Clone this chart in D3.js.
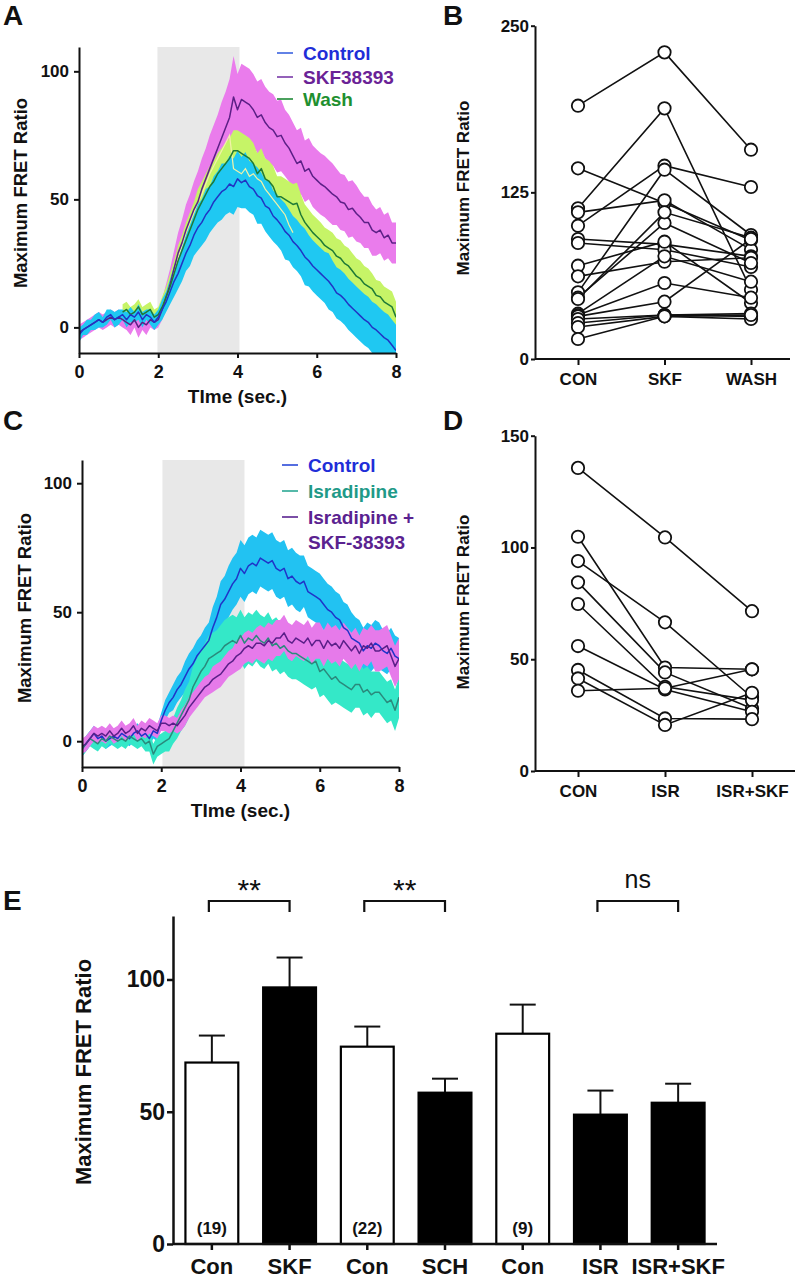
<!DOCTYPE html>
<html>
<head>
<meta charset="utf-8">
<script src="https://cdn.jsdelivr.net/npm/d3@7"></script>
<style>
  body { margin: 0; background: #fff; }
  svg { display: block; font-family: "Liberation Sans", Arial, Helvetica, sans-serif; }
</style>
</head>
<body>
<svg id="fig" width="799" height="1280"></svg>
<script>
// ---- data ----
const timeStep = 0.1;            // traces sampled every 0.1 s, 0..8 s
const timeTicks = [0, 2, 4, 6, 8];
const traceTicks = [0, 50, 100];

// panel A – mean and s.e.m. of the traces
const ctrlA = [-3,-1,0,1,2,3,2,4,5,3, 4,5,3,5,4,6,3,5,4,2, 4,7,10,14,18,21,25,29,32,36,
  39,41,44,46,49,51,53,54,56,55, 58,56.5,57.5,55,54,51.5,50.5,47.5,46.5,43.5,
  42,40,37.5,36,33.5,32,30,27.5,26,24, 22.5,21,19.5,18,16,13.5,12.5,11,9,7.5,
  6,4.5,3,2,0,-1,-2.5,-4,-5,-7,-9];
const ctrlA_sem = [3,2,3,2,3,3,2,3,2,3, 3,2,3,3,2,3,3,2,3,3, 3,4,4,5,6,6,7,7,8,8,
  9,9,10,9,10,10,11,10,11,11, 11,10,11,10,10,11,10,10,11,10, 10,10,11,10,10,10,10,11,10,10,
  10,10,10,11,10,10,10,10,10,10, 10,10,10,10,10,10,10,10,10,10,10];
const skfA = [-2,-1,0,1,2,3,2,3,4,3, 4,3,2,1,3,0,2,1,3,2, 3,7,12,17,23,29,33,38,42,46,
  49,54,58,62,66,70,74,78,82,90, 85,89,88,87,85,82,83,80,78,77,
  74.5,75,72,70,67,64,65,61,62,59, 57.5,56,55,53.5,52,51,49,48.5,46,46.5,
  44.5,43,41,41,38,37,38,35,36,33,33];
const skfA_sem = [3,3,3,3,3,3,3,3,3,3, 3,3,3,4,3,4,3,4,3,3, 3,4,5,6,7,8,9,10,10,11,
  12,12,12,13,13,13,14,14,15,16, 14,14,14,14,14,14,14,14,14,14, 14,14,13,13,13,13,13,12,12,12,
  12,12,12,12,12,11,11,11,11,11, 11,10,10,10,10,9,9,9,9,8,8];
const washA = [null,null,null,null,null,null,null,null,null,null,null,
  6,7,5,6,8,5,6,7,4, 5,8,12,16,21,26,30,34,38,42, 46,49,52,55,57,60,62,64,66,69,
  69,68,67,66,64,60,62,58,57,55, 51,51,50,49,48,48.5,44,41,39,37, 35.5,34,32,31,30,27.8,27,25,24,22,
  20,19,17,16,15,12.5,12,10,9,8,4];
const washA_sem = [null,null,null,null,null,null,null,null,null,null,null,
  3,3,3,3,3,3,3,3,3, 3,4,4,5,5,6,6,7,7,7, 8,8,8,8,8,8,8,8,8,8, 8,8,8,8,8,8,8,8,8,8,
  8,8,8,8,8,8,8,7,7,7, 7,7,7,7,7,7,7,7,7,7, 7,7,7,7,6,6,6,6,6,6,6];
const paleA = [null,null,null,null,null,null,null,null,null,null,null,null,null,null,null,null,null,null,null,null,null,
  8,12,17,22,27,32,37,41,45, 49,52,56,60,63,66,69,72,75, 62,
  61,60,62,59,60,58,57,54,52,50, 48,46,44,40,37,
  null,null,null,null,null,null,null,null,null,null,null,null,null,null,null,null,null,null,null,null,null,null,null,null,null,null];

// panel C – mean and s.e.m. of the traces
const ctrlC = [-3,-1,1,3,1,2,0,1,2,1, 3,2,1,3,4,2,3,1,4,3, 8,12,15,17,20,22,25,28,30,33,
  35,37,39,44,48,53,55,58,61,63, 67,65,68,69,68,71,70,69,70,67, 66,67,63,64,62,61,62,58,57,56,
  55,53,51,50,48,47,44,43,40,39, 38,35,37,36,38,37,35,34,36,33,32];
const ctrlC_sem = [3,3,3,3,3,3,3,3,3,3, 3,3,3,3,3,3,3,3,3,3, 3,4,4,5,5,5,6,6,6,6,
  6,7,7,8,8,9,9,10,10,10, 11,11,11,11,11,11,11,11,11,11, 11,11,11,11,11,11,10,10,10,10,
  10,10,10,10,10,10,10,10,10,9, 9,9,9,9,9,9,8,8,8,8,8];
const isrC = [-3,-1,1,0,-1,1,0,2,1,0, 1,0,2,1,0,1,-1,0,-5,-2, -1,0,1,4,7,10,13,16,21,24,
  27,29,32,33,34,35,37,38,39,38, 41,38,40,39,41,39,38,40,37,38, 36,37,35,34,34,33,32,31,30,31,
  27,28,26,24,25,23,22,21,20,22, 22,19,20,18,19,19,17,15,16,12,17];
const isrC_sem = [3,3,3,3,3,3,3,3,3,3, 3,3,3,3,3,3,3,4,4,4, 4,4,5,5,6,6,7,7,8,8,
  8,9,9,9,9,10,10,10,10,10, 10,10,10,10,10,10,10,10,10,10, 10,10,10,10,10,10,10,10,10,10,
  10,10,10,10,10,9,9,9,9,9, 9,9,9,9,8,8,8,8,8,8,8];
const isrSkfC = [-2,-1,1,3,2,3,2,4,2,3, 5,3,4,6,3,5,4,6,5,4, 7,7,6,7,6,8,10,13,15,17,
  19,21,22,24,25,26,28,30,31,33, 34,36,37,36,38,38,37,39,38,40, 40,42,39,38,40,39,38,40,37,39,
  39,36,39,37,38,36,39,37,35,37, 34,37,36,38,35,35,36,37,33,29,32];
const isrSkfC_sem = [3,3,3,3,3,3,3,3,3,3, 3,3,3,3,3,3,3,3,3,3, 3,3,3,3,3,4,4,4,4,4,
  4,4,4,5,5,5,5,5,5,6, 6,6,6,6,6,7,7,7,7,7, 7,7,7,7,7,7,7,7,7,7,
  7,7,7,7,7,7,7,7,7,7, 7,7,7,7,8,8,8,8,8,8,8];

// panel B – one value per cell and condition
const catsB = ["CON", "SKF", "WASH"];
const conB  = [190, 113, 143, 110, 100, 90, 87, 70, 62, 50, 46, 45, 34, 33, 32, 30, 27, 24, 15];
const skfB  = [230, 188, 117, 119, 145, 86, 82, 88, 73, 142, 102, 110, 77, 57, 43, 33, 33, 32, 32];
const washB = [157, 52, 89, 82, 129, 77, 69, 42, 76, 93, 72, 91, 58, 46, 90, 34, 32, 30, 33];
const ticksB = [0, 125, 250];

// panel D
const catsD = ["CON", "ISR", "ISR+SKF"];
const conD    = [135.6, 104.8, 93.9, 84.4, 74.7, 55.9, 45.2, 41.4, 35.9];
const isrD    = [104.5, 46.3, 66.5, 44.1, 37.7, 36.5, 23.5, 20.6, 37];
const isrSkfD = [71.5, 45.5, 33, 28, 31.7, 26.5, 23.2, 35, 45.5];
const ticksD = [0, 50, 100, 150];

// panel E – summary bars
const eLabels = ["Con", "SKF", "Con", "SCH", "Con", "ISR", "ISR+SKF"];
const eMean   = [68.6, 97.0, 74.6, 57.2, 79.5, 48.9, 53.4];
const eSem    = [10.2, 11.3, 7.6, 5.3, 11.0, 9.1, 7.2];
const eGroup  = ["control", "drug", "control", "drug", "control", "drug", "drug"];
const eN      = ["(19)", "", "(22)", "", "(9)", "", ""];
const eStats  = [[0, 1, "**"], [2, 3, "**"], [5, 6, "ns"]];
const ticksE  = [0, 50, 100];

// ---- drawing ----
const svg = d3.select("#fig");
svg.append("rect").attr("width", 799).attr("height", 1280).attr("fill", "#fff");
const defs = svg.append("defs");

function styleAxis(sel, fontSize, weight, sw) {
  sel.select(".domain").attr("stroke", "#111").attr("stroke-width", sw);
  sel.selectAll(".tick line").attr("stroke", "#111").attr("stroke-width", sw);
  sel.selectAll(".tick text").attr("fill", "#111")
    .style("font-size", fontSize + "px").style("font-weight", weight);
}

function panelLetter(txt, x, y) {
  svg.append("text").attr("x", x).attr("y", y).text(txt)
    .style("font-size", "28px").style("font-weight", 700).attr("fill", "#111");
}

function yTitle(x, y, size, weight) {
  svg.append("text").attr("transform", `translate(${x},${y}) rotate(-90)`)
    .attr("text-anchor", "middle").attr("dominant-baseline", "central")
    .style("font-size", size + "px").style("font-weight", weight).attr("fill", "#111")
    .text("Maximum FRET Ratio");
}

function timePanel(cfg) {
  const x = d3.scaleLinear().domain([0, 8]).range([cfg.left, cfg.right]);
  const y = d3.scaleLinear().domain(cfg.yDomain).range([cfg.bottom, cfg.top]);
  const g = svg.append("g");

  defs.append("clipPath").attr("id", cfg.id).append("rect")
    .attr("x", cfg.left).attr("y", cfg.top)
    .attr("width", cfg.right - cfg.left).attr("height", cfg.bottom - cfg.top);

  g.append("rect")
    .attr("x", x(cfg.stim[0])).attr("y", cfg.top)
    .attr("width", x(cfg.stim[1]) - x(cfg.stim[0])).attr("height", cfg.bottom - cfg.top)
    .attr("fill", "#e8e8e8");

  const plot = g.append("g").attr("clip-path", `url(#${cfg.id})`);
  const toPts = (mean, sem) => mean.map((v, i) => ({ t: i * timeStep, v, e: sem ? sem[i] : 0 }));

  cfg.series.forEach(s => {
    const area = d3.area().defined(d => d.v != null)
      .x(d => x(d.t)).y0(d => y(d.v - d.e)).y1(d => y(d.v + d.e));
    plot.append("path").datum(toPts(s.mean, s.sem)).attr("d", area).attr("fill", s.band);
  });

  const line = d3.line().defined(d => d.v != null).x(d => x(d.t)).y(d => y(d.v));
  (cfg.extra || []).forEach(s => {
    plot.append("path").datum(toPts(s.mean)).attr("d", line)
      .attr("fill", "none").attr("stroke", s.color).attr("stroke-width", 1.2);
  });
  cfg.series.forEach(s => {
    plot.append("path").datum(toPts(s.mean)).attr("d", line)
      .attr("fill", "none").attr("stroke", s.line).attr("stroke-width", 1.5)
      .attr("stroke-linejoin", "round");
  });

  g.append("g").attr("transform", `translate(${cfg.left},0)`)
    .call(d3.axisLeft(y).tickValues(traceTicks).tickSize(5).tickSizeOuter(0).tickPadding(5))
    .call(s => styleAxis(s, 17, 700, 2));
  g.append("g").attr("transform", `translate(0,${cfg.bottom})`)
    .call(d3.axisBottom(x).tickValues(timeTicks).tickSize(5).tickSizeOuter(0).tickPadding(7))
    .call(s => styleAxis(s, 18, 700, 2));

  g.append("text").attr("x", (cfg.left + cfg.right) / 2).attr("y", cfg.bottom + 50)
    .attr("text-anchor", "middle").style("font-size", "19px").style("font-weight", 700)
    .attr("fill", "#111").text("TIme (sec.)");

  // legend
  cfg.legend.forEach((l, i) => {
    const ly = cfg.legendY[i];
    if (l.mark) {
      g.append("line").attr("x1", cfg.legendX).attr("x2", cfg.legendX + 16)
        .attr("y1", ly).attr("y2", ly).attr("stroke", l.mark).attr("stroke-width", 1.6);
    }
    g.append("text").attr("x", cfg.legendX + 26).attr("y", ly).attr("dy", "0.36em")
      .style("font-size", "19px").style("font-weight", 700).attr("fill", l.color).text(l.text);
  });
}

function pairedPanel(cfg) {
  const x = d3.scalePoint().domain(cfg.cats).range([cfg.first, cfg.last]);
  const y = d3.scaleLinear().domain(cfg.yDomain).range([cfg.bottom, cfg.top]);
  const g = svg.append("g");

  const rows = cfg.cols[0].map((_, i) => cfg.cols.map((c, j) => ({ c: cfg.cats[j], v: c[i] })));

  g.append("g").attr("transform", `translate(${cfg.left},0)`)
    .call(d3.axisLeft(y).tickValues(cfg.ticks).tickSize(4).tickSizeOuter(0).tickPadding(2))
    .call(s => styleAxis(s, 17, 700, 2));
  const xa = g.append("g").attr("transform", `translate(0,${cfg.bottom})`)
    .call(d3.axisBottom(x).tickSize(6).tickSizeOuter(0).tickPadding(8))
    .call(s => styleAxis(s, 17, 700, 2));
  xa.select(".domain").remove();
  g.append("line").attr("x1", cfg.left).attr("x2", cfg.right)
    .attr("y1", cfg.bottom).attr("y2", cfg.bottom).attr("stroke", "#111").attr("stroke-width", 2);

  const line = d3.line().x(d => x(d.c)).y(d => y(d.v));
  g.selectAll("path.subj").data(rows).join("path").attr("class", "subj")
    .attr("d", line).attr("fill", "none").attr("stroke", "#111").attr("stroke-width", 1.6);
  g.selectAll("circle").data(rows.flat()).join("circle")
    .attr("cx", d => x(d.c)).attr("cy", d => y(d.v)).attr("r", 6.2)
    .attr("fill", "#fff").attr("stroke", "#111").attr("stroke-width", 1.8);
}

// Panel A
panelLetter("A", 3, 25);
yTitle(20, 193, 18.5, 700);
timePanel({
  id: "clipA", left: 79, right: 396, top: 47, bottom: 353, yDomain: [-10, 109.5], stim: [1.98, 4.05],
  series: [
    { mean: skfA, sem: skfA_sem, band: "#ea7cec", line: "#5c1f86" },
    { mean: washA, sem: washA_sem, band: "#c6f467", line: "#1f7a36" },
    { mean: ctrlA, sem: ctrlA_sem, band: "#1fc8f2", line: "#2034c4" }
  ],
  extra: [{ mean: paleA, color: "#f2f2a8" }],
  legendX: 277, legendY: [53, 77, 99],
  legend: [
    { text: "Control", color: "#1f2ed8", mark: "#3a62e0" },
    { text: "SKF38393", color: "#6a2296", mark: "#7a3aa8" },
    { text: "Wash", color: "#1f9030", mark: "#1f8a36" }
  ]
});

// Panel B
panelLetter("B", 443, 25);
yTitle(463, 188, 17, 700);
pairedPanel({
  cats: catsB, cols: [conB, skfB, washB], ticks: ticksB, yDomain: [0, 250],
  left: 535, right: 790, first: 578, last: 751, top: 25.7, bottom: 359
});

// Panel C
panelLetter("C", 3, 430);
yTitle(24, 608, 18.5, 700);
timePanel({
  id: "clipC", left: 82, right: 399, top: 460, bottom: 767, yDomain: [-10, 109], stim: [2.03, 4.1],
  series: [
    { mean: ctrlC, sem: ctrlC_sem, band: "#22c2f2", line: "#2034c8" },
    { mean: isrC, sem: isrC_sem, band: "#34e8c8", line: "#2a8a7c" },
    { mean: isrSkfC, sem: isrSkfC_sem, band: "#e67aea", line: "#5a1f88" }
  ],
  legendX: 282, legendY: [465, 491, 517, 542],
  legend: [
    { text: "Control", color: "#1f2ed8", mark: "#2a4ad8" },
    { text: "Isradipine", color: "#1f9a88", mark: "#2aa894" },
    { text: "Isradipine +", color: "#5a2290", mark: "#5a2290" },
    { text: "SKF-38393", color: "#5a2290", mark: null }
  ]
});

// Panel D
panelLetter("D", 443, 430);
yTitle(463, 602, 17, 700);
pairedPanel({
  cats: catsD, cols: [conD, isrD, isrSkfD], ticks: ticksD, yDomain: [0, 150],
  left: 535, right: 795, first: 578, last: 752, top: 435.7, bottom: 771
});

// Panel E
panelLetter("E", 3, 910);
yTitle(83, 1072, 22, 700);
(function () {
  const idx = d3.range(eLabels.length);
  const x = d3.scaleBand().domain(idx).range([173, 717]).paddingInner(0.32).paddingOuter(0.16);
  const y = d3.scaleLinear().domain([0, 124]).range([1244, 916]);
  const g = svg.append("g");
  const cx = i => x(i) + x.bandwidth() / 2;

  // error bars (upper only)
  g.selectAll("line.err").data(idx).join("line").attr("class", "err")
    .attr("x1", cx).attr("x2", cx)
    .attr("y1", i => y(eMean[i])).attr("y2", i => y(eMean[i] + eSem[i]))
    .attr("stroke", "#111").attr("stroke-width", 2);
  g.selectAll("line.cap").data(idx).join("line").attr("class", "cap")
    .attr("x1", i => cx(i) - 13).attr("x2", i => cx(i) + 13)
    .attr("y1", i => y(eMean[i] + eSem[i])).attr("y2", i => y(eMean[i] + eSem[i]))
    .attr("stroke", "#111").attr("stroke-width", 2);

  g.selectAll("rect.bar").data(idx).join("rect").attr("class", "bar")
    .attr("x", i => x(i)).attr("width", x.bandwidth())
    .attr("y", i => y(eMean[i])).attr("height", i => y(0) - y(eMean[i]))
    .attr("fill", i => eGroup[i] === "control" ? "#fff" : "#000")
    .attr("stroke", "#000").attr("stroke-width", 2.2);

  g.selectAll("text.n").data(idx.filter(i => eN[i])).join("text").attr("class", "n")
    .attr("x", cx).attr("y", 1234).attr("text-anchor", "middle")
    .style("font-size", "17px").style("font-weight", 700).attr("fill", "#111")
    .text(i => eN[i]);

  g.append("g").attr("transform", "translate(173,0)")
    .call(d3.axisLeft(y).tickValues(ticksE).tickSize(6).tickSizeOuter(0).tickPadding(2))
    .call(s => styleAxis(s, 23, 700, 2.5));
  const xa = g.append("g").attr("transform", "translate(0,1244)")
    .call(d3.axisBottom(x).tickFormat(i => eLabels[i]).tickSize(6).tickSizeOuter(0).tickPadding(8))
    .call(s => styleAxis(s, 22, 700, 2.5));
  xa.select(".domain").attr("d", "M173,0H717");

  // significance brackets
  eStats.forEach(([a, b, lab]) => {
    const x1 = cx(a) - 3, x2 = cx(b);
    g.append("path").attr("d", `M${x1},912V901H${x2}V912`)
      .attr("fill", "none").attr("stroke", "#111").attr("stroke-width", 2.2);
    const t = g.append("text").attr("x", (x1 + x2) / 2).attr("text-anchor", "middle")
      .attr("fill", "#111").text(lab);
    if (lab === "ns") t.attr("y", 888).style("font-size", "25px");
    else t.attr("y", 900).style("font-size", "30px");
  });
})();
</script>
</body>
</html>
